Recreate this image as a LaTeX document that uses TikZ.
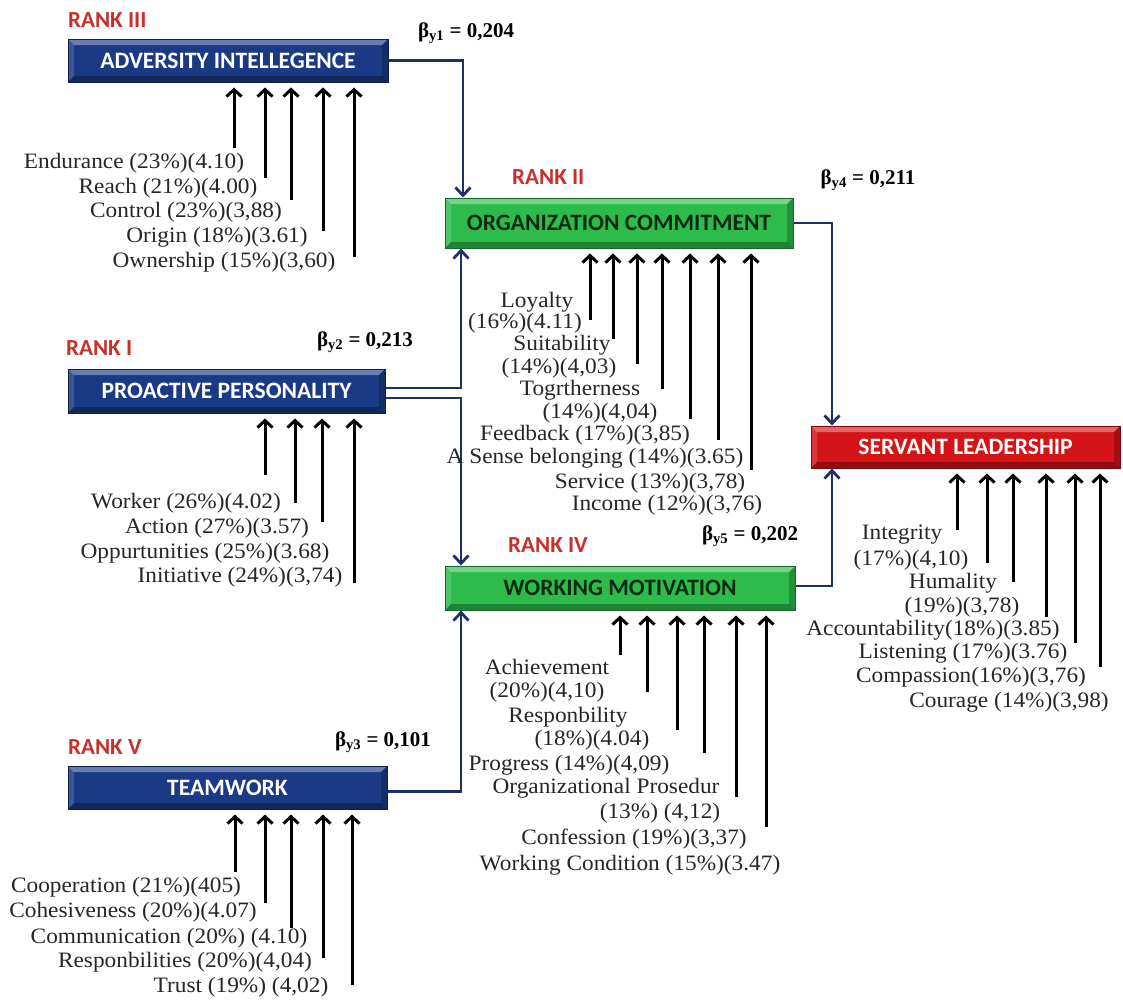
\documentclass[tikz,border=0pt]{standalone}
\usepackage{fontspec}
\setmainfont{Liberation Serif}
\newfontfamily\lblfont[FakeStretch=1.06]{Liberation Serif}
\newfontfamily\boxfont{Carlito}
\usetikzlibrary{arrows.meta}
\definecolor{navybox}{HTML}{1A3A86}
\definecolor{greenbox}{HTML}{2DBB4C}
\definecolor{redbox}{HTML}{D41419}
\definecolor{navyline}{HTML}{1F3068}
\definecolor{rankred}{HTML}{C8302C}
\definecolor{greentext}{HTML}{0E2A12}
\tikzset{
  box/.style={fill=#1, draw=#1!55!black, line width=1pt, inner sep=0pt, font=\boxfont\bfseries\fontsize{23.5}{23.5}\selectfont,
    path picture={
      \coordinate (NW) at (path picture bounding box.north west);
      \coordinate (NE) at (path picture bounding box.north east);
      \coordinate (SW) at (path picture bounding box.south west);
      \coordinate (SE) at (path picture bounding box.south east);
      \fill[white,opacity=.35] (NW) -- (NE) -- ([shift={(-6pt,-6pt)}]NE) -- ([shift={(6pt,-6pt)}]NW) -- cycle;
      \fill[white,opacity=.15] (NW) -- ([shift={(6pt,-6pt)}]NW) -- ([shift={(6pt,6pt)}]SW) -- (SW) -- cycle;
      \fill[black,opacity=.30] (SW) -- (SE) -- ([shift={(-6pt,6pt)}]SE) -- ([shift={(6pt,6pt)}]SW) -- cycle;
      \fill[black,opacity=.22] (NE) -- (SE) -- ([shift={(-6pt,6pt)}]SE) -- ([shift={(-6pt,-6pt)}]NE) -- cycle;
    }},
  lbl/.style={inner sep=0pt, font=\lblfont\fontsize{22}{22}\selectfont, text=black!85},
  rank/.style={anchor=west, inner sep=0pt, text=rankred, font=\boxfont\bfseries\fontsize{23}{23}\selectfont},
  beta/.style={inner sep=0pt, font=\bfseries\fontsize{21}{21}\selectfont},
  ind/.style={draw=black, line width=3pt, shorten >=5pt, -{Straight Barb[length=7pt,width=15pt]}},
  conn/.style={draw=navyline, line width=2.8pt, -{Straight Barb[length=8pt,width=15pt]}},
}
\begin{document}
\begin{tikzpicture}[x=1pt,y=-1pt]
\useasboundingbox[fill=white] (0,0) rectangle (1123,1001);

% boxes
\node[box=navybox, text=white, minimum width=320pt, minimum height=43pt] (adv) at (228,60.5) {ADVERSITY INTELLEGENCE};
\node[box=greenbox, text=greentext, minimum width=348pt, minimum height=50pt] (org) at (619,223) {ORGANIZATION COMMITMENT};
\node[box=navybox, text=white, minimum width=317pt, minimum height=44pt] (pro) at (226.5,391) {PROACTIVE PERSONALITY};
\node[box=greenbox, text=greentext, minimum width=350pt, minimum height=44pt] (wm) at (620,588) {WORKING MOTIVATION};
\node[box=redbox, text=white, minimum width=309pt, minimum height=42pt] (sl) at (965.5,447) {SERVANT LEADERSHIP};
\node[box=navybox, text=white, minimum width=319pt, minimum height=43pt] (tw) at (227.5,787.5) {TEAMWORK};

% ranks
\node[rank] (r3) at (68,20) {RANK III};
\node[rank] (r2) at (512,177) {RANK II};
\node[rank] (r1) at (66,348) {RANK I};
\node[rank] (r4) at (508,545) {RANK IV};
\node[rank] (r5) at (68,747) {RANK V};

% betas
\node[beta] (b1) at (466,33) {β\textsubscript{y1} = 0,204};
\node[beta] (b4) at (868,180) {β\textsubscript{y4} = 0,211};
\node[beta] (b2) at (365,342) {β\textsubscript{y2} = 0,213};
\node[beta] (b5) at (750,536) {β\textsubscript{y5} = 0,202};
\node[beta] (b3) at (383,742) {β\textsubscript{y3} = 0,101};

% main connectors
\coordinate (cx1) at (463,0);
\coordinate (cx2) at (461,0);
\coordinate (cx3) at (832,0);
\draw[conn] (adv.east) -| (cx1 |- org.north);
\draw[conn] ([yshift=3pt]pro.east) -| (cx2 |- org.south);
\draw[conn] ([yshift=-7pt]pro.east) -| (cx2 |- wm.north);
\draw[conn] ([yshift=-4pt]tw.east) -| (cx2 |- wm.south);
\draw[conn] (org.east) -| (cx3 |- sl.north);
\draw[conn] ([yshift=2pt]wm.east) -| (cx3 |- sl.south);

% adversity indicators
\foreach \i/\x/\y in {1/234/148, 2/265/178, 3/291/200, 4/323/231, 5/354/257}{
  \coordinate (a\i) at (\x,\y);
  \draw[ind] (a\i) -- (a\i |- adv.south);
}
\node[lbl] (la1) at (134,163) {Endurance (23\%)(4.10)};
\node[lbl] (la2) at (168,188) {Reach (21\%)(4.00)};
\node[lbl] (la3) at (186,212) {Control (23\%)(3,88)};
\node[lbl] (la4) at (217,237) {Origin (18\%)(3.61)};
\node[lbl] (la5) at (224,262) {Ownership (15\%)(3,60)};

% organization indicators
\foreach \i/\x/\y in {1/590/320, 2/613/339, 3/637/364, 4/662/389, 5/690/419, 6/718/440, 7/751/470}{
  \coordinate (o\i) at (\x,\y);
  \draw[ind] (o\i) -- (o\i |- org.south);
}
\node[lbl] (lo1) at (537,302) {Loyalty};
\node[lbl] (lo1b) at (525,323) {(16\%)(4.11)};
\node[lbl] (lo2) at (562,345) {Suitability};
\node[lbl] (lo2b) at (559,368) {(14\%)(4,03)};
\node[lbl] (lo3) at (580,390) {Togrtherness};
\node[lbl] (lo3b) at (600,413) {(14\%)(4,04)};
\node[lbl] (lo4) at (585,435) {Feedback (17\%)(3,85)};
\node[lbl] (lo5) at (595,458) {A Sense belonging (14\%)(3.65)};
\node[lbl] (lo6) at (650,483) {Service (13\%)(3,78)};
\node[lbl] (lo7) at (667,505) {Income (12\%)(3,76)};

% proactive indicators
\foreach \i/\x/\y in {1/265/475, 2/295/503, 3/322/522, 4/354/583}{
  \coordinate (p\i) at (\x,\y);
  \draw[ind] (p\i) -- (p\i |- pro.south);
}
\node[lbl] (lp1) at (186,503) {Worker (26\%)(4.02)};
\node[lbl] (lp2) at (217,528) {Action (27\%)(3.57)};
\node[lbl] (lp3) at (205,553) {Oppurtunities (25\%)(3.68)};
\node[lbl] (lp4) at (240,577) {Initiative (24\%)(3,74)};

% working motivation indicators
\foreach \i/\x/\y in {1/620/655, 2/647/692, 3/677/730, 4/704/753, 5/736/797, 6/766/827}{
  \coordinate (w\i) at (\x,\y);
  \draw[ind] (w\i) -- (w\i |- wm.south);
}
\node[lbl] (lw1) at (547,667) {Achievement};
\node[lbl] (lw1b) at (547,692) {(20\%)(4,10)};
\node[lbl] (lw2) at (568,717) {Responbility};
\node[lbl] (lw2b) at (592,740) {(18\%)(4.04)};
\node[lbl] (lw3) at (569,765) {Progress (14\%)(4,09)};
\node[lbl] (lw4) at (606,788) {Organizational Prosedur};
\node[lbl] (lw4b) at (660,813) {(13\%) (4,12)};
\node[lbl] (lw5) at (634,839) {Confession (19\%)(3,37)};
\node[lbl] (lw6) at (630,865) {Working Condition (15\%)(3.47)};

% servant leadership indicators
\foreach \i/\x/\y in {1/957/530, 2/987/563, 3/1013/582, 4/1046/617, 5/1075/643, 6/1100/667}{
  \coordinate (s\i) at (\x,\y);
  \draw[ind] (s\i) -- (s\i |- sl.south);
}
\node[lbl] (ls1) at (902,535) {Integrity};
\node[lbl] (ls1b) at (911,560) {(17\%)(4,10)};
\node[lbl] (ls2) at (953,583) {Humality};
\node[lbl] (ls2b) at (962,607) {(19\%)(3,78)};
\node[lbl] (ls3) at (933,630) {Accountability(18\%)(3.85)};
\node[lbl] (ls4) at (963,653) {Listening (17\%)(3.76)};
\node[lbl] (ls5) at (971,677) {Compassion(16\%)(3,76)};
\node[lbl] (ls6) at (1009,702) {Courage (14\%)(3,98)};

% teamwork indicators
\foreach \i/\x/\y in {1/235/872, 2/265/903, 3/291/928, 4/323/958, 5/352/985}{
  \coordinate (t\i) at (\x,\y);
  \draw[ind] (t\i) -- (t\i |- tw.south);
}
\node[lbl] (lt1) at (126,887) {Cooperation (21\%)(405)};
\node[lbl] (lt2) at (133,912) {Cohesiveness (20\%)(4.07)};
\node[lbl] (lt3) at (169,938) {Communication (20\%) (4.10)};
\node[lbl] (lt4) at (185,962) {Responbilities (20\%)(4,04)};
\node[lbl] (lt5) at (241,987) {Trust (19\%) (4,02)};
\end{tikzpicture}
\end{document}
